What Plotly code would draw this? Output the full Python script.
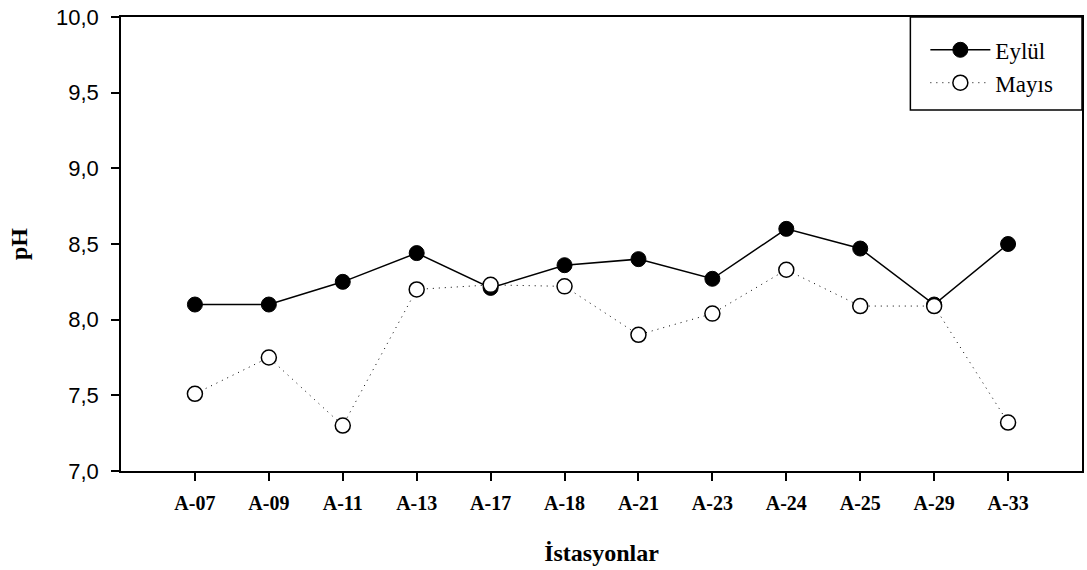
import plotly.graph_objects as go

stations = ["A-07", "A-09", "A-11", "A-13", "A-17", "A-18", "A-21", "A-23", "A-24", "A-25", "A-29", "A-33"]
eylul = [8.10, 8.10, 8.25, 8.44, 8.21, 8.36, 8.40, 8.27, 8.60, 8.47, 8.10, 8.50]
mayis = [7.51, 7.75, 7.30, 8.20, 8.23, 8.22, 7.90, 8.04, 8.33, 8.09, 8.09, 7.32]
yticks = [7.0, 7.5, 8.0, 8.5, 9.0, 9.5, 10.0]

xs = list(range(len(stations)))

fig = go.Figure()
fig.add_trace(go.Scatter(
    x=xs, y=eylul, name="Eylül", mode="lines+markers",
    line=dict(color="black", width=1.5),
    marker=dict(symbol="circle", size=15, color="black", line=dict(color="black", width=1)),
))
fig.add_trace(go.Scatter(
    x=xs, y=mayis, name="Mayıs", mode="lines+markers",
    line=dict(color="black", width=1, dash="1px,5px"),
    marker=dict(symbol="circle", size=15, color="white", line=dict(color="black", width=1.5)),
))

# legend frame
fig.add_shape(type="rect", xref="paper", yref="paper",
              x0=0.8214, x1=1.0, y0=0.795, y1=1.0,
              line=dict(color="black", width=1.5), fillcolor="rgba(0,0,0,0)", layer="above")

fig.update_layout(
    width=1087, height=570,
    margin=dict(l=121, r=3, t=17, b=99),
    paper_bgcolor="white", plot_bgcolor="white",
    separators=", ",
    showlegend=True,
    legend=dict(
        x=0.837, y=0.975, xanchor="left", yanchor="top",
        borderwidth=0, bgcolor="rgba(0,0,0,0)",
        font=dict(family="Liberation Serif", size=23, color="black"),
        itemwidth=60, tracegroupgap=0,
    ),
    xaxis=dict(
        range=[-1, 12],
        tickmode="array", tickvals=xs, ticktext=stations,
        ticks="outside", ticklen=8, tickwidth=1.5, tickcolor="black",
        ticklabelstandoff=5,
        tickfont=dict(family="Liberation Serif", size=20, color="black", weight="bold"),
        showline=True, linecolor="black", linewidth=1.5, mirror=True,
        showgrid=False, zeroline=False,
        title=dict(text="<b>İstasyonlar</b>", font=dict(family="Liberation Serif", size=24, color="black"), standoff=31),
    ),
    yaxis=dict(
        range=[7.0, 10.0],
        tickmode="array", tickvals=yticks, tickformat=".1f",
        ticks="outside", ticklen=8, tickwidth=1.5, tickcolor="black",
        ticklabelstandoff=8,
        tickfont=dict(family="Arial, Liberation Sans, sans-serif", size=22, color="black"),
        showline=True, linecolor="black", linewidth=1.5, mirror=True,
        showgrid=False, zeroline=False,
        title=dict(text="<b>pH</b>", font=dict(family="Liberation Serif", size=24, color="black"), standoff=22),
    ),
)

fig.write_html("out.html")
